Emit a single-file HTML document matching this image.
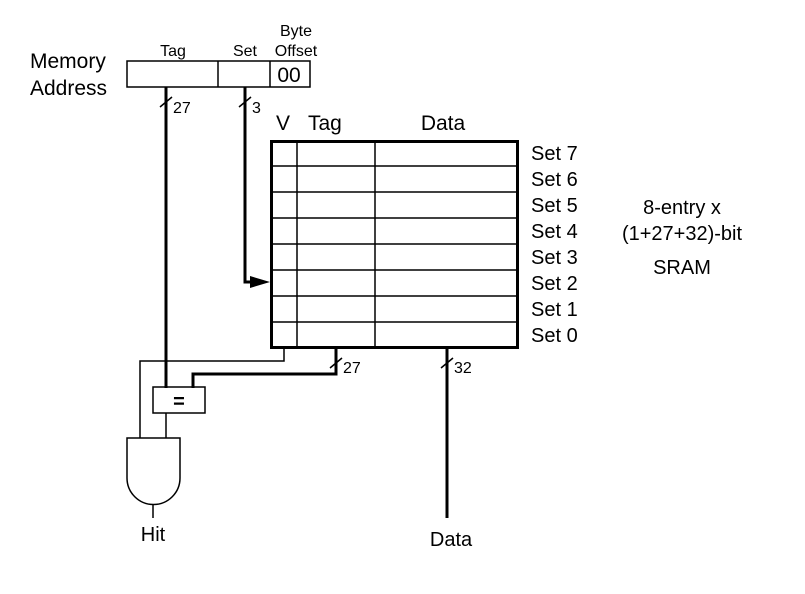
<!DOCTYPE html>
<html><head><style>body{margin:0;background:#fff}</style></head><body>
<svg width="805" height="589" viewBox="0 0 805 589" xmlns="http://www.w3.org/2000/svg" font-family="Liberation Sans, sans-serif" fill="#000">
<rect width="805" height="589" fill="#fff"/>
<text x="30" y="68" font-size="21">Memory</text>
<text x="30" y="95" font-size="21">Address</text>
<text x="173" y="56" font-size="16" text-anchor="middle">Tag</text>
<text x="245" y="56" font-size="16" text-anchor="middle">Set</text>
<text x="296" y="36" font-size="16" text-anchor="middle">Byte</text>
<text x="296" y="56" font-size="16" text-anchor="middle">Offset</text>
<g fill="none" stroke="#000" stroke-width="1.5">
<rect x="127" y="61" width="183" height="26"/>
<line x1="218" y1="61" x2="218" y2="87"/>
<line x1="270" y1="61" x2="270" y2="87"/>
</g>
<text x="289" y="82" font-size="21" text-anchor="middle">00</text>
<g stroke="#000" stroke-width="3" fill="none">
<line x1="166" y1="87" x2="166" y2="388"/>
<polyline points="245,87 245,282 252,282"/>
<rect x="271.5" y="141.5" width="246" height="206"/>
<polyline points="336,348 336,374 193,374 193,388"/>
<line x1="447" y1="348" x2="447" y2="518"/>
</g>
<polygon points="250,276 270,282 250,288"/>
<g stroke="#000" stroke-width="1.5" fill="none">
<line x1="160" y1="107" x2="172" y2="97"/>
<line x1="239" y1="107" x2="251" y2="97"/>
<line x1="330" y1="368" x2="342" y2="358"/>
<line x1="441" y1="368" x2="453" y2="358"/>
<line x1="297" y1="140" x2="297" y2="348"/>
<line x1="375" y1="140" x2="375" y2="348"/>
<line x1="270" y1="166" x2="518" y2="166"/>
<line x1="270" y1="192" x2="518" y2="192"/>
<line x1="270" y1="218" x2="518" y2="218"/>
<line x1="270" y1="244" x2="518" y2="244"/>
<line x1="270" y1="270" x2="518" y2="270"/>
<line x1="270" y1="296" x2="518" y2="296"/>
<line x1="270" y1="322" x2="518" y2="322"/>
<polyline points="284,348 284,361 140,361 140,438"/>
<rect x="153" y="387" width="52" height="26"/>
<line x1="166" y1="413" x2="166" y2="438"/>
<path d="M127,438 H180 V478 A26.5,26.5 0 0 1 127,478 Z"/>
<line x1="153" y1="505" x2="153" y2="518"/>
</g>
<text x="179" y="408" font-size="20" font-weight="bold" text-anchor="middle">=</text>
<text x="173" y="113" font-size="16">27</text>
<text x="252" y="113" font-size="16">3</text>
<text x="343" y="373" font-size="16">27</text>
<text x="454" y="373" font-size="16">32</text>
<text x="276" y="130" font-size="21">V</text>
<text x="308" y="130" font-size="21">Tag</text>
<text x="443" y="130" font-size="21" text-anchor="middle">Data</text>
<g font-size="20">
<text x="531" y="160">Set 7</text>
<text x="531" y="186">Set 6</text>
<text x="531" y="212">Set 5</text>
<text x="531" y="238">Set 4</text>
<text x="531" y="264">Set 3</text>
<text x="531" y="290">Set 2</text>
<text x="531" y="316">Set 1</text>
<text x="531" y="342">Set 0</text>
</g>
<g font-size="20" text-anchor="middle">
<text x="682" y="214">8-entry x</text>
<text x="682" y="240">(1+27+32)-bit</text>
<text x="682" y="274">SRAM</text>
<text x="153" y="541">Hit</text>
<text x="451" y="546">Data</text>
</g>
</svg>
</body></html>
